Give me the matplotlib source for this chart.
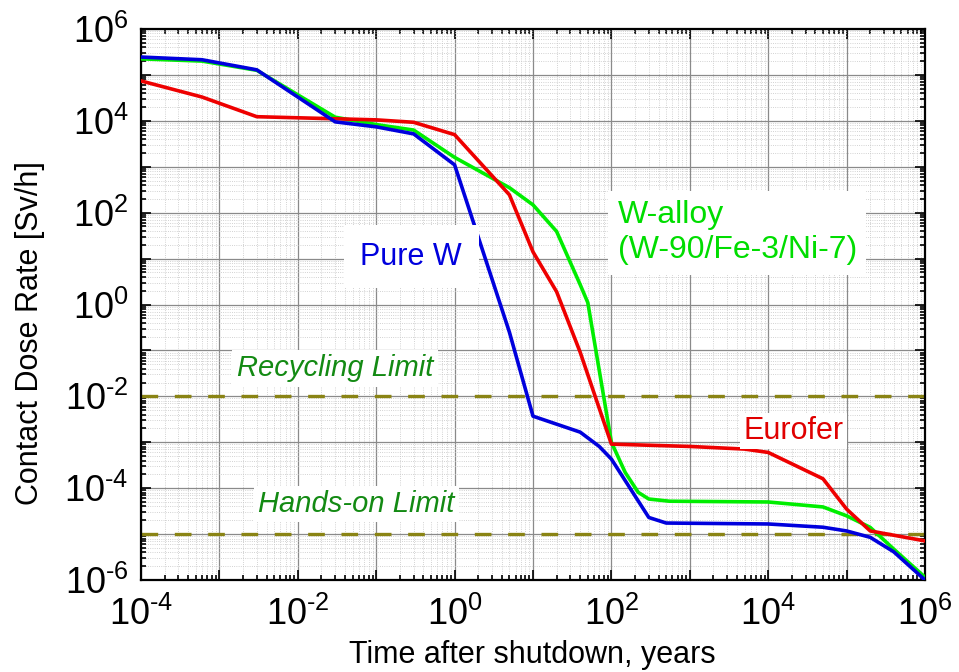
import numpy as np
import matplotlib
matplotlib.use('Agg')
import matplotlib.pyplot as plt
from matplotlib.ticker import FixedLocator, FuncFormatter, LogLocator, NullFormatter

plt.rcParams['font.family'] = ['Liberation Sans', 'DejaVu Sans']
plt.rcParams['mathtext.fontset'] = 'custom'
plt.rcParams['mathtext.rm'] = 'Liberation Sans'
plt.rcParams['mathtext.it'] = 'Liberation Sans:italic'

# time after shutdown (years) and contact dose rate (Sv/h)
t_purew = [1e-4, 6e-4, 3e-3, 0.03, 0.1, 0.3, 1, 5, 10, 40, 70, 100, 300, 500,
           1e4, 5e4, 1e5, 2e5, 4e5, 1e6]
dose_purew = [2.45e5, 2.14e5, 1.29e5, 9.5e3, 7.4e3, 5.2e3, 1.1e3, 0.25, 3.7e-3,
              1.66e-3, 8.1e-4, 4.3e-4, 2.3e-5, 1.74e-5, 1.66e-5, 1.41e-5,
              1.17e-5, 8.5e-6, 4.1e-6, 1.0e-6]

t_walloy = [1e-4, 6e-4, 3e-3, 0.03, 0.1, 0.3, 1, 5, 10, 20, 40, 50, 100, 150,
            220, 300, 550, 1e4, 5e4, 1e5, 2e5, 4e5, 1e6]
dose_walloy = [2.24e5, 2.0e5, 1.26e5, 1.2e4, 8.3e3, 6.3e3, 1.6e3, 350, 148, 39,
               2.7, 1.1, 1.0e-3, 2.2e-4, 8.1e-5, 5.8e-5, 5.2e-5, 5.0e-5,
               3.9e-5, 2.5e-5, 1.4e-5, 4.7e-6, 1.15e-6]

t_eurofer = [1e-4, 6e-4, 3e-3, 0.1, 0.3, 1, 5, 10, 20, 40, 100, 1e3, 5e3, 1e4,
             5e4, 1e5, 2e5, 1e6]
dose_eurofer = [7.4e4, 3.3e4, 1.23e4, 1.05e4, 9.3e3, 5.0e3, 245, 14, 1.9, 0.091,
                9.1e-4, 8.1e-4, 7.1e-4, 6.0e-4, 1.6e-4, 3.5e-5, 1.17e-5, 7.1e-6]

recycling_limit = 1e-2
handson_limit = 1e-5

fig = plt.figure(figsize=(9.59, 6.72), dpi=100)
ax = fig.add_axes([141/959, 1-580/672, 784/959, 551/672])

ax.set_xscale('log')
ax.set_yscale('log')
ax.set_xlim(1e-4, 1e6)
ax.set_ylim(1e-6, 1e6)

# grid first so everything sits on top
ax.grid(True, which='major', color='#8a8a8a', lw=0.9, ls='-', zorder=0)
ax.grid(True, which='minor', color='#c4c4c4', lw=0.6, ls=':', zorder=0)
ax.set_axisbelow(True)

dash_col = '#8a8414'
ax.axhline(recycling_limit, color=dash_col, lw=2.4, dashes=(5, 5), zorder=2)
ax.axhline(handson_limit, color=dash_col, lw=2.4, dashes=(5, 5), zorder=2)

ax.plot(t_walloy, dose_walloy, color='#00ee00', lw=2.6, zorder=3)
ax.plot(t_eurofer, dose_eurofer, color='#ee0000', lw=2.6, zorder=4)
ax.plot(t_purew, dose_purew, color='#0000dd', lw=2.6, zorder=5)

# ticks: every decade gets a major tick/grid, labels on even exponents only
def even_label(v, pos):
    e = int(round(np.log10(v)))
    if e % 2:
        return ''
    if e < 0:
        return r'$\mathdefault{10^{\text{-}%d}}$' % -e
    return r'$\mathdefault{10^{%d}}$' % e

ax.xaxis.set_major_locator(FixedLocator([10.0**k for k in range(-4, 7)]))
ax.yaxis.set_major_locator(FixedLocator([10.0**k for k in range(-6, 7)]))
ax.xaxis.set_major_formatter(FuncFormatter(even_label))
ax.yaxis.set_major_formatter(FuncFormatter(even_label))
for a in (ax.xaxis, ax.yaxis):
    a.set_minor_locator(LogLocator(base=10, subs=np.arange(2, 10), numticks=50))
    a.set_minor_formatter(NullFormatter())

ax.tick_params(which='both', direction='in', top=True, right=True, width=1.2)
ax.tick_params(which='major', length=7)
ax.tick_params(which='minor', length=3.5)
ax.tick_params(axis='x', which='major', labelsize=26, pad=12)
ax.tick_params(axis='y', which='major', labelsize=26, pad=9)
for s in ax.spines.values():
    s.set_linewidth(1.6)

# annotations
ax.text(0.28, 11, 'Pure W', color='#0000dd', fontsize=22, ha='center', va='center',
        bbox=dict(boxstyle='square,pad=0.55', fc='white', ec='none'), zorder=6)
ax.text(120, 36.7, 'W-alloy\n(W-90/Fe-3/Ni-7)', color='#00dd00', fontsize=23,
        ha='left', va='center', linespacing=1.2,
        bbox=dict(boxstyle='square,pad=0.3', fc='white', ec='none'), zorder=6)
ax.text(2.1e4, 1.74e-3, 'Eurofer', color='#e00000', fontsize=22, ha='center',
        va='center', bbox=dict(boxstyle='square,pad=0.1', fc='white', ec='none'),
        zorder=6)
ax.text(1.67e-3, 0.041, 'Recycling Limit', color='#138a13', fontsize=21,
        style='italic', ha='left', va='center',
        bbox=dict(boxstyle='square,pad=0.15', fc='white', ec='none'), zorder=6)
ax.text(3.1e-3, 4.5e-5, 'Hands-on Limit', color='#138a13', fontsize=21,
        style='italic', ha='left', va='center',
        bbox=dict(boxstyle='square,pad=0.15', fc='white', ec='none'), zorder=6)

fig.text(532/959, 1-655/672, 'Time after shutdown, years', fontsize=22,
         ha='center', va='center')
fig.text(30/959, 1-333/672, 'Contact Dose Rate [Sv/h]', fontsize=22,
         ha='center', va='center', rotation=90)

fig.savefig('out.png', dpi=100)
